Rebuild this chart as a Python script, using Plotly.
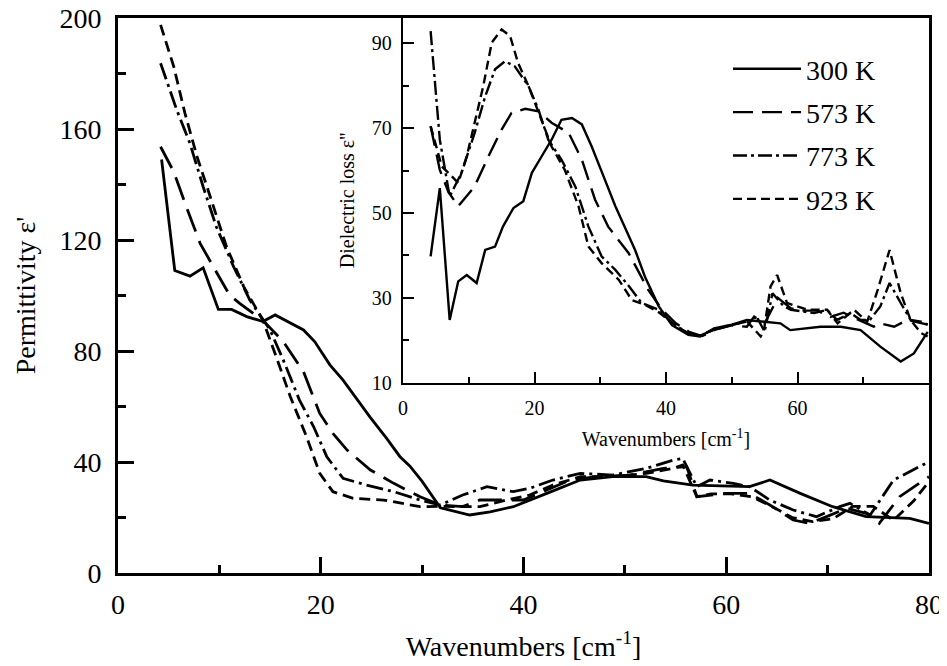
import plotly.graph_objects as go

# ---------------- data: main plot (permittivity) ----------------
main_300_x = [4.3, 5.6, 7.1, 8.4, 9.9, 11.2, 12.7, 14.3, 15.5, 17.0, 18.3, 19.4, 20.9, 22.2, 24.9, 26.5, 27.8, 28.8, 30.0, 31.8, 34.7, 36.7, 39.0, 42.3, 45.6, 48.8, 52.1, 53.8, 56.7, 62.3, 64.3, 67.3, 70.5, 73.8, 78.1, 80.0]
main_300_y = [149, 109, 107, 110, 95, 95, 92.4, 90.6, 93, 90, 87.6, 83.4, 75, 69.5, 56, 48.5, 42, 38.5, 33, 23.5, 20.9, 22, 23.9, 28.7, 33.5, 34.7, 34.7, 33.2, 31.7, 31.1, 33.5, 28.7, 23.9, 20.3, 19.7, 17.9]

main_573_x = [4.2, 5.5, 6.8, 8.1, 9.4, 11.0, 12.0, 14.3, 16.3, 18.3, 19.9, 21.2, 22.6, 24.9, 27.2, 29.8, 31.8, 34.0, 35.7, 37.3, 40.0, 42.3, 44.6, 47.2, 50.5, 53.8, 56.1, 57.1, 60.0, 62.3, 64.3, 66.6, 68.2, 69.9, 71.9, 73.8, 75.1, 77.1, 80.0]
main_573_y = [153.6, 144.6, 131.4, 118.8, 110.4, 100.2, 97.2, 91, 83.4, 72.5, 57.5, 50.3, 44.3, 37.1, 32.3, 27.5, 24.5, 23.9, 26.3, 26.3, 26.3, 29.9, 33.5, 34.7, 35.3, 37.7, 38.3, 27.5, 28.7, 28.7, 24.5, 19.1, 17.9, 20.3, 23.3, 21.5, 17.9, 27.5, 34.7]

main_773_x = [4.2, 5.8, 7.1, 8.4, 9.7, 11.4, 13.0, 14.3, 15.0, 16.3, 17.9, 19.3, 20.6, 22.2, 24.5, 27.2, 29.8, 31.8, 34.0, 36.4, 39.0, 40.6, 42.9, 45.6, 48.8, 52.1, 54.8, 55.7, 57.1, 58.4, 60.7, 62.3, 64.3, 66.6, 68.9, 71.2, 72.2, 74.2, 76.5, 80.0]
main_773_y = [183.7, 166.8, 154.8, 139.2, 124.8, 110.4, 98.4, 91.2, 87.6, 76.8, 62.3, 52.7, 41.9, 34.1, 31.7, 29.3, 26.3, 24.5, 28.1, 31.1, 29.3, 30.5, 33.5, 35.9, 35.3, 37.7, 40.7, 41.3, 31.1, 33.5, 32.3, 31.1, 26.3, 22.7, 20.3, 23.9, 25.1, 20.9, 33.5, 40.1]

main_923_x = [4.2, 5.5, 6.6, 7.8, 9.1, 10.7, 12.4, 14.3, 15.6, 17.0, 18.6, 19.9, 21.2, 23.2, 26.2, 29.8, 31.8, 35.7, 38.3, 40.6, 42.9, 45.6, 48.8, 52.1, 54.8, 55.7, 57.1, 58.5, 60.5, 62.5, 64.5, 66.5, 68.5, 70.5, 72.5, 74.5, 76.5, 78.5, 80.0]
main_923_y = [197.5, 182.5, 165.7, 150, 135.6, 117.6, 103.2, 91, 78, 63.5, 49.1, 35.9, 29.3, 26.9, 26.3, 23.9, 24, 23.9, 26.3, 28.1, 31.7, 34.7, 34.7, 35.9, 37.7, 38.9, 27.5, 28.5, 28.5, 27.5, 24, 20, 18.5, 19.5, 24, 24, 19, 26, 33]

# ---------------- data: inset (dielectric loss) ----------------
ins_300_x = [4.2, 5.6, 7.1, 8.4, 9.7, 11.2, 12.5, 14.0, 15.2, 16.8, 18.3, 19.6, 21.1, 22.6, 24.1, 25.7, 27.2, 28.7, 30.7, 32.3, 35.3, 36.8, 38.9, 40.9, 43.4, 45.2, 47.3, 49.8, 52.3, 54.9, 57.4, 58.9, 63.5, 66.6, 69.6, 72.6, 75.7, 77.7, 79.8]
ins_300_y = [39.8, 55.9, 24.8, 33.9, 35.4, 33.5, 41.3, 42.1, 46.8, 51.2, 52.8, 59.5, 63.4, 67.3, 72, 72.4, 70.9, 65.7, 57.9, 51.6, 41.3, 35, 28, 23.6, 21.3, 20.9, 22.8, 23.6, 24.8, 24.4, 24, 22.4, 23.2, 23.2, 22.4, 18.5, 15, 16.9, 22]

ins_573_x = [4.2, 5.6, 6.9, 8.4, 10.9, 13.0, 15.0, 16.5, 18.6, 20.6, 22.6, 25.2, 27.2, 29.2, 31.2, 34.3, 37.3, 39.4, 41.5, 43.5, 45.5, 47.5, 50.0, 52.3, 53.4, 55.0, 57.0, 59.0, 61.0, 63.0, 65.0, 67.0, 69.0, 71.6, 72.6, 74.7, 76.7, 79.8]
ins_573_y = [70.5, 60.2, 55, 51.6, 56.3, 63.4, 69.7, 73.6, 74.6, 74, 71.3, 68.9, 62.6, 53.2, 46.8, 40.6, 31.9, 27.2, 24, 22, 21, 22.5, 23.5, 23.2, 25.6, 24, 30, 27.5, 27, 27, 25.5, 26.5, 25, 23.2, 24, 23.2, 24.8, 23.7]

ins_773_x = [4.2, 5.6, 7.1, 8.9, 10.9, 12.5, 14.0, 15.5, 17.0, 19.1, 20.6, 22.1, 24.1, 26.2, 28.2, 30.2, 32.3, 34.4, 36.3, 38.9, 41.0, 43.0, 45.0, 47.3, 49.8, 52.3, 54.0, 55.0, 56.2, 57.9, 59.0, 62.5, 64.5, 66.0, 68.1, 69.6, 71.0, 72.6, 74.0, 75.7, 77.2, 78.8, 79.8]
ins_773_y = [92.9, 67.3, 53.9, 59.5, 68.9, 77.5, 83.9, 85.8, 84.6, 79.9, 74.4, 67.3, 62.6, 56.3, 46.8, 39.8, 36.6, 32.7, 28.8, 27.2, 24, 22, 21, 22.5, 23.6, 24.5, 25, 22, 31.1, 28, 27.2, 26.4, 27.2, 24.8, 26.4, 24.8, 24.8, 28, 33.5, 28.8, 24.8, 24.4, 23.7]

ins_923_x = [4.2, 5.9, 6.9, 8.4, 9.7, 10.9, 12.2, 13.5, 15.0, 16.3, 17.5, 19.1, 20.6, 22.6, 24.6, 26.7, 28.2, 30.2, 32.8, 34.8, 36.8, 39.0, 41.0, 43.0, 45.0, 47.3, 49.8, 52.3, 54.4, 54.9, 55.9, 56.9, 58.4, 61.5, 64.5, 66.1, 68.6, 70.6, 72.2, 74.0, 75.7, 77.2, 78.8, 79.8]
ins_923_y = [70.5, 61, 59.5, 57.1, 63.4, 71.3, 79.9, 90.2, 93.3, 91.7, 85.4, 79.9, 73.6, 65.7, 60.2, 51.6, 42.1, 38.2, 34.3, 29.5, 28.4, 26.5, 24, 22, 21, 22.5, 23.5, 24.5, 20.9, 22.4, 32.7, 35.4, 28.8, 27.2, 27.2, 24, 27.2, 24.4, 31.9, 41.3, 31.1, 24.8, 21.7, 20.9]

series_names = ["300 K", "573 K", "773 K", "923 K"]
main_tick_vals = [0, 20, 40, 60, 80]
main_y_ticks = [0, 40, 80, 120, 160, 200]
inset_x_ticks = [0, 20, 40, 60]
inset_y_ticks = [10, 30, 50, 70, 90]

main_data = [(main_300_x, main_300_y), (main_573_x, main_573_y), (main_773_x, main_773_y), (main_923_x, main_923_y)]
inset_data = [(ins_300_x, ins_300_y), (ins_573_x, ins_573_y), (ins_773_x, ins_773_y), (ins_923_x, ins_923_y)]

main_dash = ["solid", "24px,10px", "17px,5px,3px,5px", "11px,6px"]
inset_dash = ["solid", "20px,9px", "14px,4px,3px,4px", "9px,5px"]

FONT = "Times New Roman, Liberation Serif, DejaVu Serif, serif"

fig = go.Figure()
for (x, y), d, n in zip(main_data, main_dash, series_names):
    fig.add_trace(go.Scatter(x=x, y=y, mode="lines", name=n, showlegend=False,
                             line=dict(color="black", width=2.8, dash=d),
                             xaxis="x", yaxis="y"))
for (x, y), d, n in zip(inset_data, inset_dash, series_names):
    fig.add_trace(go.Scatter(x=x, y=y, mode="lines", name=n, showlegend=True,
                             legendgroup=n,
                             line=dict(color="black", width=2.4, dash=d),
                             xaxis="x2", yaxis="y2"))

W, H = 947, 666
OFF = 8  # page body margin
def px_x(p):
    return (p - OFF) / W
def px_y(p):
    return 1 - (p - OFF) / H

axis_common = dict(showgrid=False, zeroline=False, showline=True, linecolor="black",
                   ticks="inside", tickcolor="black", automargin=False,
                   ticklabeloverflow="allow")

fig.update_layout(
    template="none",
    width=W, height=H,
    margin=dict(l=0, r=0, t=0, b=0, pad=0, autoexpand=False),
    paper_bgcolor="white", plot_bgcolor="white",
    font=dict(family=FONT, color="black"),
    xaxis=dict(domain=[px_x(118), px_x(929)], range=[0, 80], tickvals=main_tick_vals,
               linewidth=2.8, mirror=True, ticklen=16, tickwidth=2.5,
               minor=dict(dtick=10, tick0=0, ticklen=8, tickwidth=2.5, ticks="inside", tickcolor="black"),
               tickfont=dict(size=28, family=FONT), ticklabelstandoff=4,
               title=dict(text="Wavenumbers [cm<sup>-1</sup>]", font=dict(size=28, family=FONT), standoff=18),
               anchor="y", **axis_common),
    yaxis=dict(domain=[px_y(573), px_y(18)], range=[0, 200], tickvals=main_y_ticks,
               linewidth=2.8, mirror=True, ticklen=16, tickwidth=2.5,
               minor=dict(dtick=20, tick0=0, ticklen=8, tickwidth=2.5, ticks="inside", tickcolor="black"),
               tickfont=dict(size=28, family=FONT), ticklabelstandoff=8,
               title=dict(text="Permittivity ε'", font=dict(size=28, family=FONT), standoff=16),
               anchor="x", **axis_common),
    xaxis2=dict(domain=[px_x(403), px_x(929)], range=[0, 80], tickvals=inset_x_ticks,
                linewidth=2.4, mirror=True, ticklen=11, tickwidth=2.2,
                minor=dict(dtick=10, tick0=0, ticklen=6, tickwidth=2.2, ticks="inside", tickcolor="black"),
                tickfont=dict(size=20, family=FONT), ticklabelstandoff=6,
                title=dict(text="Wavenumbers [cm<sup>-1</sup>]", font=dict(size=20, family=FONT), standoff=14),
                anchor="y2", **axis_common),
    yaxis2=dict(domain=[px_y(382.7), px_y(18)], range=[10, 96], tickvals=inset_y_ticks,
                linewidth=2.4, mirror=True, ticklen=11, tickwidth=2.2,
                minor=dict(dtick=10, tick0=0, ticklen=6, tickwidth=2.2, ticks="inside", tickcolor="black"),
                tickfont=dict(size=20, family=FONT), ticklabelstandoff=5,
                title=dict(text="Dielectric loss ε''", font=dict(size=20, family=FONT), standoff=12),
                anchor="x2", **axis_common),
    legend=dict(x=px_x(728), y=px_y(44), xanchor="left", yanchor="top",
                bgcolor="rgba(0,0,0,0)", borderwidth=0,
                font=dict(size=28, family=FONT), itemwidth=68,
                tracegroupgap=4),
)

fig.write_html("out.html")
